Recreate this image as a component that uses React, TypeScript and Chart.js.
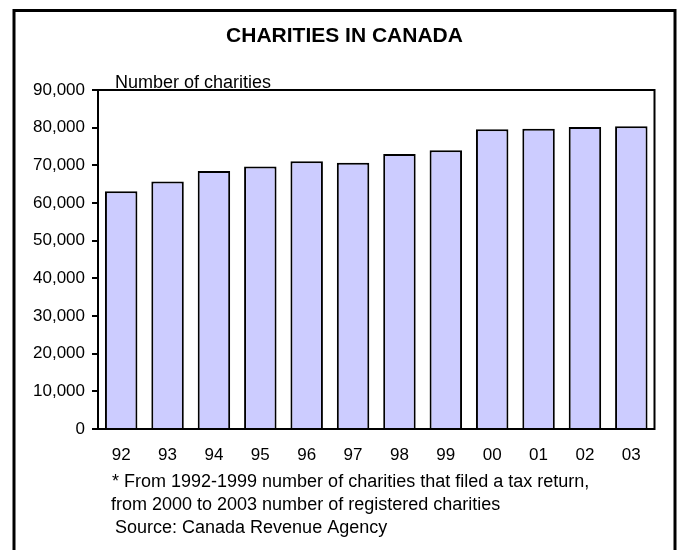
import React, { useEffect, useRef } from "react";
import { Chart, registerables } from "chart.js";

Chart.register(...registerables);

const YEARS = ["92", "93", "94", "95", "96", "97", "98", "99", "00", "01", "02", "03"];
const CHARITIES = [63100, 65700, 68500, 69700, 71100, 70700, 73000, 74000, 79600, 79700, 80200, 80400];
const Y_MIN = 0;
const Y_MAX = 90000;
const Y_STEP = 10000;

const TITLE = "CHARITIES IN CANADA";
const AXIS_LABEL = "Number of charities";
const NOTE_1 = "* From 1992-1999 number of charities that filed a tax return,";
const NOTE_2 = "from 2000 to 2003 number of registered charities";
const SOURCE = "Source: Canada Revenue Agency";

const FONT = '"Liberation Sans", Arial, Helvetica, sans-serif';

const decor = {
  id: "decor",
  beforeDraw(chart: any) {
    const { ctx, width, height } = chart;
    ctx.save();
    ctx.fillStyle = "#ffffff";
    ctx.fillRect(0, 0, width, height);
    ctx.restore();
  },
  afterDraw(chart: any) {
    const { ctx, chartArea } = chart;
    const { left, top, right, bottom } = chartArea;
    ctx.save();
    ctx.strokeStyle = "#000";
    ctx.lineWidth = 2;
    ctx.strokeRect(left, top, right - left, bottom - top);
    ctx.lineWidth = 3;
    ctx.strokeRect(14, 10.5, 661, 600);

    ctx.fillStyle = "#000";
    ctx.textBaseline = "alphabetic";
    ctx.textAlign = "center";
    ctx.font = `bold 21px ${FONT}`;
    ctx.fillText(TITLE, 344.5, 42);

    ctx.textAlign = "left";
    ctx.font = `18px ${FONT}`;
    ctx.fillText(AXIS_LABEL, 115, 88);

    ctx.font = `18px ${FONT}`;
    ctx.fillText(NOTE_1, 112, 487);
    ctx.fillText(NOTE_2, 111, 510);
    ctx.fillText(SOURCE, 115, 533);
    ctx.restore();
  },
};

export default function App() {
  const ref = useRef<HTMLCanvasElement | null>(null);

  useEffect(() => {
    if (!ref.current) return;
    const chart = new Chart(ref.current, {
      type: "bar",
      data: {
        labels: YEARS,
        datasets: [
          {
            data: CHARITIES,
            backgroundColor: "#CCCCFF",
            borderColor: "#000000",
            borderWidth: 2,
            barPercentage: 0.7,
            categoryPercentage: 1.0,
          },
        ],
      },
      options: {
        animation: false,
        responsive: false,
        events: [],
        layout: { padding: { top: 90, right: 23.5, left: 0, bottom: 0 } },
        plugins: {
          legend: { display: false },
          title: { display: false },
          tooltip: { enabled: false },
        },
        scales: {
          x: {
            grid: { display: false, drawTicks: false },
            border: { display: true, color: "#000", width: 2 },
            ticks: {
              color: "#000",
              font: { family: FONT, size: 17 },
              padding: 16,
              maxRotation: 0,
            },
            afterFit(scale: any) {
              scale.height = 121;
            },
          },
          y: {
            min: Y_MIN,
            max: Y_MAX,
            grid: { drawOnChartArea: false, color: "#000", lineWidth: 2, tickLength: 6 },
            border: { display: true, color: "#000", width: 2 },
            ticks: {
              stepSize: Y_STEP,
              color: "#000",
              font: { family: FONT, size: 17 },
              padding: 7,
              callback: (v: any) => Number(v).toLocaleString("en-US"),
            },
            afterFit(scale: any) {
              scale.width = 98;
            },
          },
        },
      },
      plugins: [decor],
    });
    return () => chart.destroy();
  }, []);

  return (
    <div style={{ position: "absolute", left: 0, top: 0, width: 678, height: 550 }}>
      <canvas ref={ref} width={678} height={550} style={{ width: 678, height: 550, display: "block" }} />
    </div>
  );
}
